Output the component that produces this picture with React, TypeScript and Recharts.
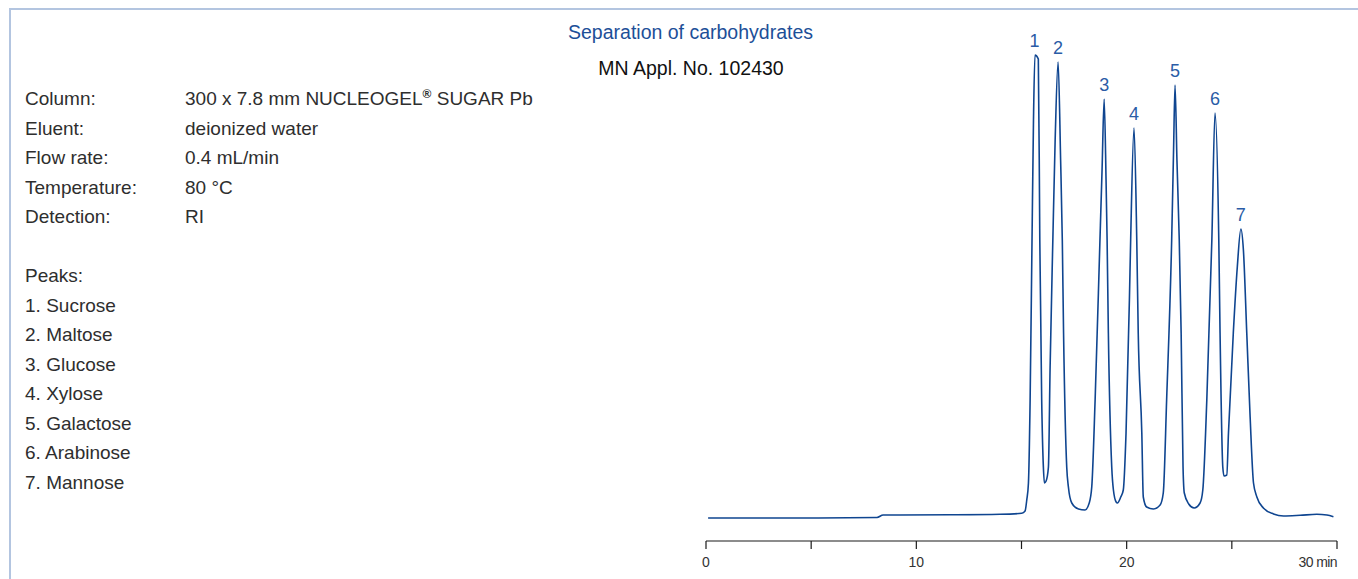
import React from "react";
import { LineChart, Line, XAxis, YAxis, ReferenceDot, ReferenceLine } from "recharts";

const TIME = [
  0.1, 4.47, 8.13, 8.42, 11.6, 13.98, 15.01, 15.17, 15.25, 15.33, 15.41, 15.5, 15.57, 15.64, 15.8, 15.87, 15.96,
  16.04, 16.09, 16.17, 16.28, 16.36, 16.49, 16.6, 16.74, 16.86, 16.94, 17.0, 17.15, 17.23, 17.39, 17.71, 18.02,
  18.22, 18.34, 18.5, 18.73, 18.83, 18.93, 19.02, 19.07, 19.13, 19.29, 19.37, 19.5, 19.56, 19.72, 19.84,
  19.97, 20.13, 20.19, 20.35, 20.48, 20.55, 20.72, 20.79, 20.95, 21.27, 21.59, 21.74, 21.9, 22.14, 22.23,
  22.3, 22.39, 22.5, 22.59, 22.68, 22.74, 22.95, 23.21, 23.49, 23.62, 23.81, 24.05, 24.2, 24.38,
  24.44, 24.57, 24.63, 24.76, 24.84, 25.07, 25.26, 25.43, 25.55, 25.71, 25.87, 26.03, 26.19, 26.5, 26.98, 27.46,
  28.25, 29.04, 29.52, 29.83,
];

const SIGNAL = [
  0, 0, 0.5, 3, 3.2, 3.7, 4.7, 7, 18, 35, 118, 278, 398, 463, 459, 278, 118,
  51, 35, 37, 51, 151, 278, 378, 456, 358, 278, 185, 51, 31, 15, 9, 8,
  15, 31, 118, 278, 348, 419, 338, 278, 185, 51, 28, 16, 15, 21, 28,
  85, 218, 278, 390, 278, 185, 85, 21, 11, 9, 13, 25, 118, 278, 368,
  433, 358, 278, 185, 51, 25, 14, 10, 15, 28, 118, 278, 405, 278,
  185, 51, 42, 43, 85, 185, 251, 289, 268, 185, 101, 35, 21, 10, 4, 2,
  2.7, 3.7, 3, 1.3,
];

const PEAK_LABELS = ["1", "2", "3", "4", "5", "6", "7"];
const PEAK_TIMES = [15.62, 16.74, 18.93, 20.35, 22.3, 24.2, 25.43];
const PEAK_HEIGHTS = [463, 456, 419, 390, 433, 405, 289];

const X_TICKS = [0, 5, 10, 15, 20, 25, 30];
const X_TICK_LABELS: Record<number, string> = { 0: "0", 10: "10", 20: "20", 30: "30 min" };

const CONDITIONS = [
  ["Column:", "300 x 7.8 mm NUCLEOGEL", " SUGAR Pb"],
  ["Eluent:", "deionized water"],
  ["Flow rate:", "0.4 mL/min"],
  ["Temperature:", "80 °C"],
  ["Detection:", "RI"],
];

const PEAK_NAMES = ["Sucrose", "Maltose", "Glucose", "Xylose", "Galactose", "Arabinose", "Mannose"];

const data = TIME.map((t, i) => ({ t, s: SIGNAL[i] }));

const FONT = '"Liberation Sans", Arial, Helvetica, sans-serif';
const TEXT = "#2e2e2e";
const BLUE = "#1d4f98";
const LINE = "#0f4590";

const AxisTick = (props: any) => {
  const { x, y, payload } = props;
  const label = X_TICK_LABELS[payload.value];
  if (!label) return null;
  const last = payload.value === 30;
  return (
    <text
      x={x}
      y={y}
      dy="0.71em"
      textAnchor={last ? "end" : "middle"}
      fontSize={14}
      letterSpacing={last ? -0.6 : 0}
      fill="#333"
      fontFamily={FONT}
    >
      {label}
    </text>
  );
};

const ROW = 29.5;

export default function App() {
  return (
    <div style={{ position: "absolute", left: 0, top: 0, width: 1358, height: 579, background: "#fff", fontFamily: FONT, overflow: "hidden" }}>
      <div style={{ position: "absolute", left: 9, top: 8, right: 0, bottom: 0, borderTop: "2px solid #b3c5e0", borderLeft: "2px solid #b3c5e0" }} />

      <div style={{ position: "absolute", left: 0, width: 1381, top: 20, textAlign: "center", fontSize: 19.5, color: BLUE, lineHeight: "24px" }}>
        Separation of carbohydrates
      </div>
      <div style={{ position: "absolute", left: 0, width: 1382, top: 56, textAlign: "center", fontSize: 19.5, color: "#111", lineHeight: "24px" }}>
        MN Appl. No. 102430
      </div>

      {CONDITIONS.map((row, i) => (
        <div key={row[0]} style={{ position: "absolute", top: 99 - 12 + i * ROW, height: 24, lineHeight: "24px", fontSize: 19, color: TEXT }}>
          <span style={{ position: "absolute", left: 25, whiteSpace: "nowrap" }}>{row[0]}</span>
          <span style={{ position: "absolute", left: 185, whiteSpace: "nowrap" }}>
            {row[1]}
            {row[2] ? (
              <>
                <sup style={{ fontSize: 12, fontWeight: "bold", verticalAlign: "7px", lineHeight: 0 }}>®</sup>
                {row[2]}
              </>
            ) : null}
          </span>
        </div>
      ))}

      <div style={{ position: "absolute", left: 25, top: 99 - 12 + 6 * ROW, lineHeight: "24px", fontSize: 19, color: TEXT }}>Peaks:</div>
      {PEAK_NAMES.map((name, i) => (
        <div key={name} style={{ position: "absolute", left: 25, top: 99 - 12 + (7 + i) * ROW, lineHeight: "24px", fontSize: 19, color: TEXT, whiteSpace: "nowrap" }}>
          {i + 1}. {name}
        </div>
      ))}

      <div style={{ position: "absolute", left: 0, top: 0 }}>
        <LineChart width={1358} height={579} data={data} margin={{ top: 41, right: 21, bottom: 8, left: 706 }}>
          <XAxis
            dataKey="t"
            type="number"
            domain={[0, 30]}
            ticks={X_TICKS}
            interval={0}
            height={30}
            tickSize={8}
            tickMargin={8}
            axisLine={false}
            tickLine={{ stroke: "#1a1a1a", strokeWidth: 1.2 }}
            tick={<AxisTick />}
            allowDataOverflow
          />
          <YAxis hide type="number" domain={[-23, 477]} allowDataOverflow />
          <ReferenceLine
            segment={[{ x: 0, y: -23 }, { x: 30, y: -23 }]}
            stroke="#1a1a1a"
            strokeWidth={1.2}
          />
          <Line
            type="monotone"
            dataKey="s"
            stroke={LINE}
            strokeWidth={1.6}
            dot={false}
            isAnimationActive={false}
          />
          {PEAK_LABELS.map((lab, i) => (
            <ReferenceDot
              key={lab}
              x={PEAK_TIMES[i]}
              y={PEAK_HEIGHTS[i]}
              r={0}
              stroke="none"
              fill="none"
              label={{ value: lab, position: "top", offset: 8, fill: "#2a5ca6", fontSize: 18, fontFamily: FONT }}
            />
          ))}
        </LineChart>
      </div>
    </div>
  );
}
